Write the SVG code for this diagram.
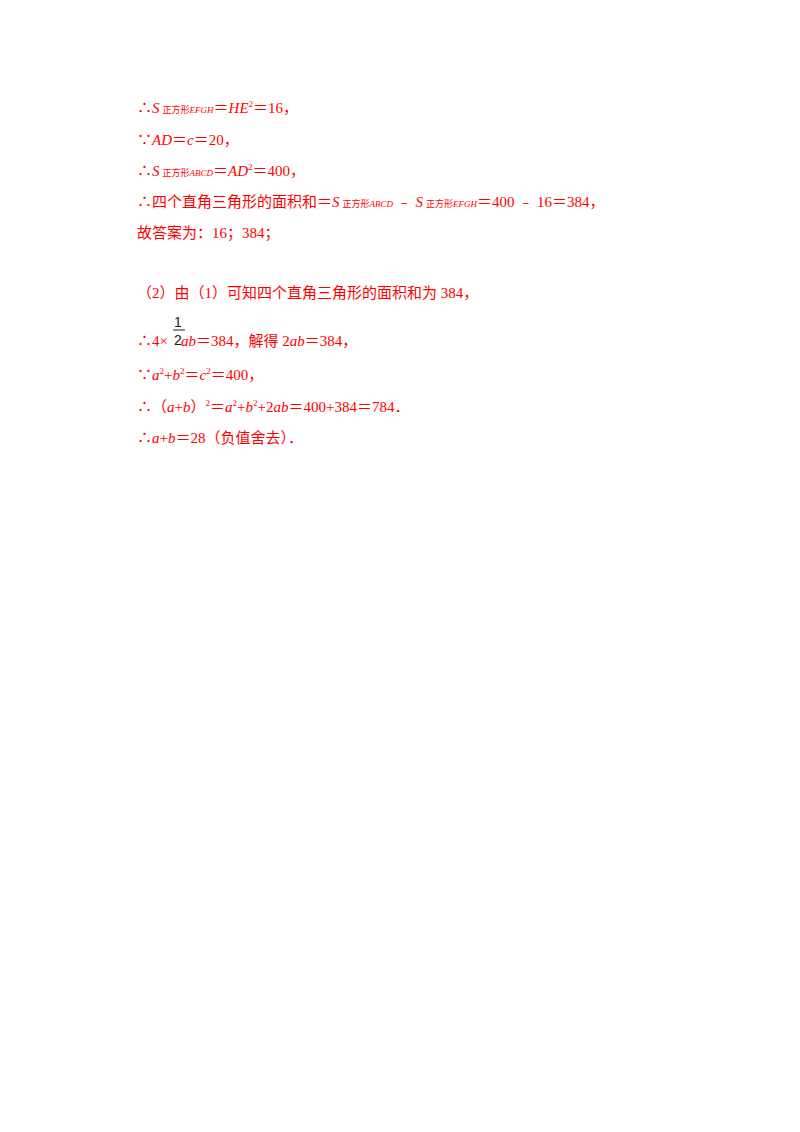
<svg xmlns="http://www.w3.org/2000/svg" width="800" height="1132" viewBox="0 0 800 1132">
<style>
text{font-family:"Liberation Serif","Noto Sans CJK SC",serif;font-size:15px;fill:#ff0000}
.i{font-style:italic}
.s{font-size:9px}
.sup{font-size:9px}
.k{fill:#222;font-family:"Liberation Sans",sans-serif;font-size:14px}
</style>
<rect width="800" height="1132" fill="#fff"/>
<text x="137" y="113">∴<tspan class="i">S</tspan><tspan class="s" dx="3">正方形</tspan><tspan class="s i">EFGH</tspan>＝<tspan class="i">HE</tspan><tspan class="sup" dy="-6">2</tspan><tspan dy="6">＝16，</tspan></text>
<text x="137" y="145">∵<tspan class="i">AD</tspan>＝<tspan class="i">c</tspan>＝20，</text>
<text x="137" y="176">∴<tspan class="i">S</tspan><tspan class="s" dx="3">正方形</tspan><tspan class="s i">ABCD</tspan>＝<tspan class="i">AD</tspan><tspan class="sup" dy="-6">2</tspan><tspan dy="6">＝400，</tspan></text>
<text x="137" y="207">∴四个直角三角形的面积和＝<tspan class="i">S</tspan><tspan class="s" dx="3">正方形</tspan><tspan class="s i">ABCD</tspan> ﹣ <tspan class="i">S</tspan><tspan class="s" dx="3">正方形</tspan><tspan class="s i">EFGH</tspan>＝400 ﹣ 16＝384，</text>
<text x="137" y="238">故答案为：16；384；</text>
<text x="137" y="298">（2）由（1）可知四个直角三角形的面积和为 384，</text>
<text class="k" x="174" y="327">1</text>
<line x1="173" y1="330" x2="185" y2="330" stroke="#222" stroke-width="1"/>
<text class="k" x="174" y="345">2</text>
<text x="137" y="346">∴4×<tspan class="i" dx="13">ab</tspan>＝384，解得 2<tspan class="i">ab</tspan>＝384，</text>
<text x="137" y="380">∵<tspan class="i">a</tspan><tspan class="sup" dy="-6">2</tspan><tspan dy="6">+</tspan><tspan class="i">b</tspan><tspan class="sup" dy="-6">2</tspan><tspan dy="6">＝</tspan><tspan class="i">c</tspan><tspan class="sup" dy="-6">2</tspan><tspan dy="6">＝400，</tspan></text>
<text x="137" y="412">∴（<tspan class="i">a</tspan>+<tspan class="i">b</tspan>）<tspan class="sup" dy="-6">2</tspan><tspan dy="6">＝</tspan><tspan class="i">a</tspan><tspan class="sup" dy="-6">2</tspan><tspan dy="6">+</tspan><tspan class="i">b</tspan><tspan class="sup" dy="-6">2</tspan><tspan dy="6">+2</tspan><tspan class="i">ab</tspan>＝400+384＝784．</text>
<text x="137" y="443">∴<tspan class="i">a</tspan>+<tspan class="i">b</tspan>＝28（负值舍去）．</text>
</svg>
